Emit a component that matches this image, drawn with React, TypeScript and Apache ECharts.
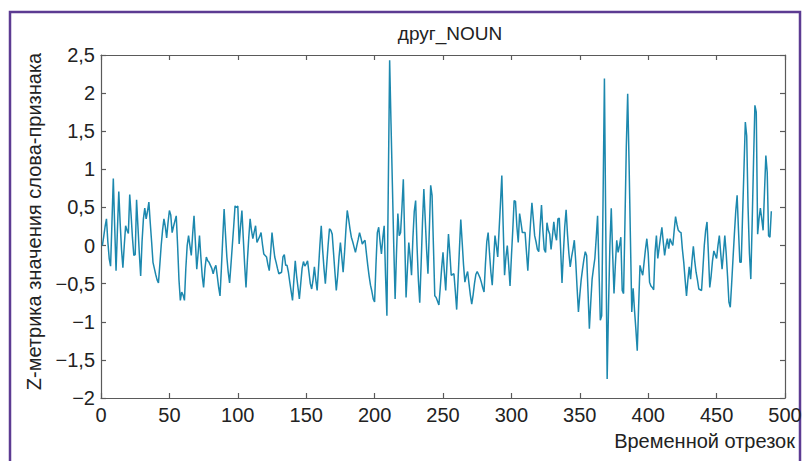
import React, { useEffect, useRef } from "react";
import * as echarts from "echarts";

const titleText = "друг_NOUN";
const xAxisName = "Временной отрезок";
const yAxisName = "Z-метрика значения слова-признака";

const xTicks = [0, 50, 100, 150, 200, 250, 300, 350, 400, 450, 500];
const yTicks = [-2, -1.5, -1, -0.5, 0, 0.5, 1, 1.5, 2, 2.5];
const yTickLabels = ["−2", "−1,5", "−1", "−0,5", "0", "0,5", "1", "1,5", "2", "2,5"];

// Z-metric values for time segments 1..490
const zValues = [
  0.00, 0.12, 0.25, 0.35, 0.05, -0.17, -0.27, 0.30, 0.88, 0.25,
  -0.33, 0.20, 0.71, 0.30, -0.05, -0.29, 0.00, 0.26, 0.20, 0.16,
  0.67, 0.40, 0.10, -0.13, -0.12, 0.60, 0.25, -0.10, -0.40, 0.05,
  0.35, 0.49, 0.35, 0.45, 0.57, 0.30, 0.05, -0.22, -0.30, -0.38,
  -0.45, -0.49, -0.25, 0.00, 0.20, 0.35, 0.25, 0.10, 0.30, 0.46,
  0.40, 0.17, 0.25, 0.32, 0.39, 0.00, -0.45, -0.72, -0.61, -0.65,
  -0.72, -0.30, 0.00, 0.13, 0.00, -0.13, 0.15, 0.39, 0.05, -0.31,
  -0.10, 0.13, -0.15, -0.40, -0.55, -0.30, -0.15, -0.20, -0.22, -0.26,
  -0.30, -0.37, -0.30, -0.26, -0.40, -0.55, -0.66, -0.30, 0.10, 0.48,
  0.15, -0.15, -0.35, -0.49, -0.25, 0.00, 0.25, 0.52, 0.50, 0.52,
  0.02, 0.25, 0.46, 0.10, -0.25, -0.55, -0.20, 0.10, 0.35, 0.20,
  0.09, 0.18, 0.26, 0.04, 0.08, 0.12, 0.17, 0.02, -0.11, -0.13,
  -0.15, -0.25, -0.33, -0.10, 0.17, 0.00, -0.15, -0.22, -0.30, -0.37,
  -0.36, -0.35, -0.15, -0.12, -0.26, -0.26, -0.35, -0.48, -0.60, -0.72,
  -0.45, -0.20, -0.40, -0.55, -0.70, -0.50, -0.30, -0.21, -0.27, -0.24,
  -0.20, -0.35, -0.50, -0.57, -0.45, -0.28, -0.45, -0.59, -0.30, 0.00,
  0.26, -0.05, -0.30, -0.50, -0.25, 0.00, 0.22, 0.20, 0.15, -0.10,
  -0.35, -0.59, -0.40, -0.15, 0.04, -0.15, -0.35, -0.10, 0.20, 0.46,
  0.35, 0.22, 0.11, 0.05, -0.02, -0.09, 0.00, 0.08, 0.17, 0.10,
  0.02, 0.05, 0.07, -0.10, -0.26, -0.40, -0.52, -0.60, -0.70, -0.74,
  -0.25, 0.17, 0.24, 0.05, -0.11, 0.10, 0.26, -0.40, -0.92, 0.75,
  2.43, 1.60, 0.80, 0.00, -0.70, -0.10, 0.42, 0.13, 0.17, 0.50,
  0.87, 0.10, -0.68, -0.30, 0.04, -0.15, -0.39, 0.10, 0.45, 0.59,
  0.00, -0.45, -0.75, -0.25, 0.30, 0.74, 0.35, -0.05, -0.37, 0.20,
  0.79, 0.66, 0.00, -0.66, -0.68, -0.73, -0.78, -0.55, -0.30, -0.09,
  -0.35, -0.59, -0.20, 0.15, -0.10, -0.39, -0.38, -0.37, -0.60, -0.84,
  -0.45, -0.05, 0.34, 0.05, -0.25, -0.48, -0.40, -0.34, -0.50, -0.65,
  -0.77, -0.65, -0.50, -0.38, -0.34, -0.38, -0.42, -0.48, -0.55, -0.61,
  -0.25, 0.05, 0.17, -0.10, -0.35, -0.52, -0.20, 0.13, 0.00, -0.15,
  0.20, 0.55, 0.92, 0.25, -0.39, -0.15, 0.00, -0.25, -0.53, -0.15,
  0.20, 0.59, 0.58, 0.25, 0.04, 0.42, 0.30, 0.17, 0.17, 0.17,
  -0.08, -0.33, 0.00, 0.30, 0.56, 0.35, 0.13, 0.05, -0.05, -0.08,
  0.25, 0.53, 0.20, -0.05, -0.09, 0.30, 0.20, 0.15, -0.05, 0.12,
  0.31, 0.15, 0.07, 0.35, 0.36, -0.05, -0.49, -0.10, 0.25, 0.47,
  0.15, -0.10, -0.28, -0.15, -0.05, 0.07, -0.20, -0.55, -0.87, -0.65,
  -0.45, -0.31, -0.18, -0.08, -0.13, -0.60, -1.09, -0.75, -0.44, -0.30,
  -0.17, 0.10, 0.39, -0.30, -0.98, -0.92, 0.60, 2.19, 0.20, -1.75,
  -0.80, 0.00, 0.49, -0.10, -0.63, -0.25, 0.07, -0.09, 0.00, 0.11,
  -0.59, -0.63, 0.30, 1.30, 1.99, 1.10, 0.10, -0.87, -0.56, -0.85,
  -1.10, -1.38, -0.80, -0.26, -0.33, -0.39, -0.22, -0.05, 0.09, -0.10,
  -0.48, -0.53, -0.55, -0.58, -0.09, 0.13, -0.17, -0.03, 0.11, 0.24,
  0.05, -0.13, 0.00, 0.09, -0.04, 0.09, 0.04, 0.00, 0.20, 0.38,
  0.28, 0.20, 0.18, 0.17, -0.05, -0.22, -0.45, -0.66, -0.45, -0.28,
  -0.44, -0.20, -0.01, -0.20, -0.35, -0.45, -0.57, -0.58, -0.59, -0.30,
  0.00, 0.20, 0.31, -0.10, -0.55, -0.40, -0.20, -0.07, -0.12, -0.17,
  0.00, 0.13, -0.10, -0.31, -0.10, 0.13, -0.10, -0.40, -0.74, -0.81,
  -0.50, -0.17, 0.15, 0.45, 0.66, 0.20, -0.22, -0.22, 0.40, 1.00,
  1.62, 1.44, 0.50, -0.10, -0.44, 0.30, 1.10, 1.84, 1.75, 0.15,
  0.35, 0.49, 0.35, 0.20, 0.70, 1.18, 0.96, 0.13, 0.11, 0.45,
];

const FONT = "'Liberation Sans Narrow', 'Liberation Sans', Arial, sans-serif";

export default function App() {
  const ref = useRef<HTMLDivElement>(null);

  useEffect(() => {
    if (!ref.current) return;
    const chart = echarts.init(ref.current, undefined, { renderer: "svg" });
    const yLabel = (v: number) => {
      const k = yTicks.findIndex((t) => Math.abs(t - v) < 1e-9);
      return k >= 0 ? yTickLabels[k] : "";
    };
    const xLabel = (v: number) => {
      const k = xTicks.findIndex((t) => Math.abs(t - v) < 1e-9);
      return k >= 0 ? String(xTicks[k]) : "";
    };
    const axisLineStyle = { color: "#5a5a5a", width: 1.2 };
    chart.setOption({
      animation: false,
      backgroundColor: "#ffffff",
      title: {
        text: titleText,
        left: 445,
        top: 19,
        textAlign: "center",
        textStyle: { fontFamily: FONT, fontSize: 19, fontWeight: "normal", color: "#222" },
      },
      graphic: [
        {
          type: "rect",
          shape: { x: 10, y: 12, width: 790, height: 470 },
          style: { fill: "none", stroke: "#5c3b92", lineWidth: 2.5 },
          silent: true,
        },
      ],
      grid: { left: 101, top: 55, width: 684, height: 343, containLabel: false },
      xAxis: [
        {
          type: "value",
          min: 0,
          max: 500,
          interval: 50,
          position: "bottom",
          name: xAxisName,
          nameLocation: "end",
          nameGap: 10,
          nameTextStyle: {
            fontFamily: FONT,
            fontSize: 20,
            color: "#222",
            align: "right",
            verticalAlign: "top",
            padding: [33, 0, 0, 0],
          },
          axisLine: { show: true, onZero: false, lineStyle: axisLineStyle },
          axisTick: { show: true, inside: true, length: 5, lineStyle: axisLineStyle },
          axisLabel: { fontFamily: FONT, fontSize: 20, color: "#222", margin: 7, formatter: xLabel },
          splitLine: { show: false },
        },
        {
          type: "value",
          min: 0,
          max: 500,
          interval: 50,
          position: "top",
          axisLine: { show: true, onZero: false, lineStyle: axisLineStyle },
          axisTick: { show: true, inside: true, length: 5, lineStyle: axisLineStyle },
          axisLabel: { show: false },
          splitLine: { show: false },
        },
      ],
      yAxis: [
        {
          type: "value",
          min: -2,
          max: 2.5,
          interval: 0.5,
          position: "left",
          name: yAxisName,
          nameLocation: "middle",
          nameGap: 57,
          nameTextStyle: { fontFamily: FONT, fontSize: 20, color: "#222", padding: [0, 0, 0, 10] },
          axisLine: { show: true, onZero: false, lineStyle: axisLineStyle },
          axisTick: { show: true, inside: true, length: 5, lineStyle: axisLineStyle },
          axisLabel: { fontFamily: FONT, fontSize: 20, color: "#222", margin: 6, formatter: yLabel },
          splitLine: { show: false },
        },
        {
          type: "value",
          min: -2,
          max: 2.5,
          interval: 0.5,
          position: "right",
          axisLine: { show: true, onZero: false, lineStyle: axisLineStyle },
          axisTick: { show: true, inside: true, length: 5, lineStyle: axisLineStyle },
          axisLabel: { show: false },
          splitLine: { show: false },
        },
      ],
      series: [
        {
          type: "line",
          xAxisIndex: 0,
          yAxisIndex: 0,
          showSymbol: false,
          symbol: "none",
          lineStyle: { color: "#1c88ae", width: 1.5 },
          data: zValues.map((v, i) => [i + 1, v]),
        },
      ],
    });
    return () => chart.dispose();
  }, []);

  return (
    <div
      ref={ref}
      style={{ position: "fixed", left: 0, top: 0, width: 805, height: 461, background: "#fff" }}
    />
  );
}
